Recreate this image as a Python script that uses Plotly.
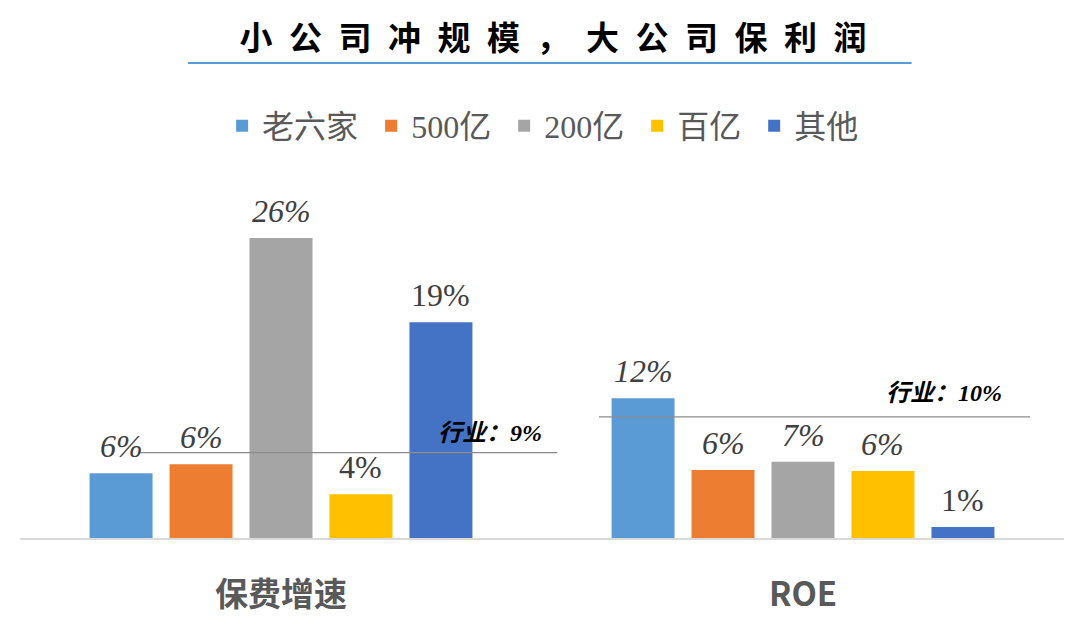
import plotly.graph_objects as go

# ---------------- data ----------------
categories = ["保费增速", "ROE"]
series_names = ["老六家", "500亿", "200亿", "百亿", "其他"]
s_laoliujia = [5.6, 12.1]
s_500yi = [6.4, 5.9]
s_200yi = [26.0, 6.6]
s_baiyi = [3.8, 5.8]
s_qita = [18.7, 0.95]
# which value labels are drawn in italic in the original
label_italic = [[True, True], [True, True], [True, True], [False, True], [False, False]]
industry_labels = ["行业：9%", "行业：10%"]
industry_level = [7.4, 10.5]   # level of the reference line as drawn
title_text = "小公司冲规模，大公司保利润"

# ---------------- style ----------------
colors = ["#5B9BD5", "#ED7D31", "#A5A5A5", "#FFC000", "#4472C4"]
all_series = [s_laoliujia, s_500yi, s_200yi, s_baiyi, s_qita]
BARGAP = 0.234
BARGROUPGAP = 0.2125
CJK = "Noto Sans CJK SC"
SERIF = "Liberation Serif"
LEGEND_PAD = "\u00a0"   # extra spacing between legend entries

fig = go.Figure()
for name, vals, col in zip(series_names, all_series, colors):
    fig.add_trace(go.Bar(name=name + LEGEND_PAD, x=categories, y=vals,
                         marker=dict(color=col, line=dict(width=0)), hoverinfo="skip"))

# value labels above each bar (positions derived from the bar layout)
n = len(all_series)
slot = (1 - BARGAP) / n
annotations = []
for si, vals in enumerate(all_series):
    for gi, v in enumerate(vals):
        txt = f"{round(v):.0f}%"
        if label_italic[si][gi]:
            txt = f"<i>{txt}</i>"
        annotations.append(dict(x=gi + (si - (n - 1) / 2) * slot, y=v, xref="x", yref="y",
                                text=txt, showarrow=False, yanchor="bottom", yshift=7,
                                font=dict(family=SERIF, size=32, color="#404040")))

# industry reference lines + labels
line_extent = [(-0.27, 0.529), (0.609, 1.435)]
label_pos = [0.40, 1.271]
label_shift = [5, 9]
shapes = []
for lvl, (x0, x1), lab, lx, ys in zip(industry_level, line_extent, industry_labels, label_pos, label_shift):
    shapes.append(dict(type="line", xref="x", yref="y", x0=x0, x1=x1, y0=lvl, y1=lvl,
                       line=dict(color="#8C8C8C", width=1.2), layer="above"))
    annotations.append(dict(x=lx, y=lvl, xref="x", yref="y", text=f"<b><i>{lab}</i></b>",
                            showarrow=False, yanchor="bottom", yshift=ys,
                            font=dict(family=f"{SERIF}, {CJK}", size=24, color="#000000")))

# title underline
shapes.append(dict(type="line", xref="paper", yref="paper", x0=0.161, x1=0.854, y0=1.327, y1=1.327,
                   line=dict(color="#5B9BD5", width=2)))

fig.update_layout(
    width=1080, height=639,
    margin=dict(l=20, r=16, t=180, b=101),
    paper_bgcolor="white", plot_bgcolor="white",
    barmode="group", bargap=BARGAP, bargroupgap=BARGROUPGAP,
    title=dict(text="<b>" + "\u2002".join(title_text) + "</b>", x=0.512, xanchor="center",
               y=0.9405, yanchor="middle", xref="container", yref="container",
               font=dict(family=CJK, size=33, color="#000000", weight=900)),
    legend=dict(orientation="h", x=0.1936, xanchor="left", y=1.151, yanchor="middle",
                font=dict(family=f"{SERIF}, {CJK}", size=32, color="#595959"),
                itemclick=False, itemdoubleclick=False, traceorder="normal",
                bgcolor="rgba(0,0,0,0)"),
    xaxis=dict(showgrid=False, showline=True, linecolor="#D9D9D9", linewidth=1.5,
               ticks="outside", ticklen=27, tickcolor="rgba(0,0,0,0)",
               tickfont=dict(family=CJK, size=33, color="#595959", weight="bold"),
               zeroline=False),
    yaxis=dict(range=[0, 31.02], visible=False, showgrid=False, zeroline=False),
    shapes=shapes, annotations=annotations,
    showlegend=True,
)

fig.write_html("out.html")
